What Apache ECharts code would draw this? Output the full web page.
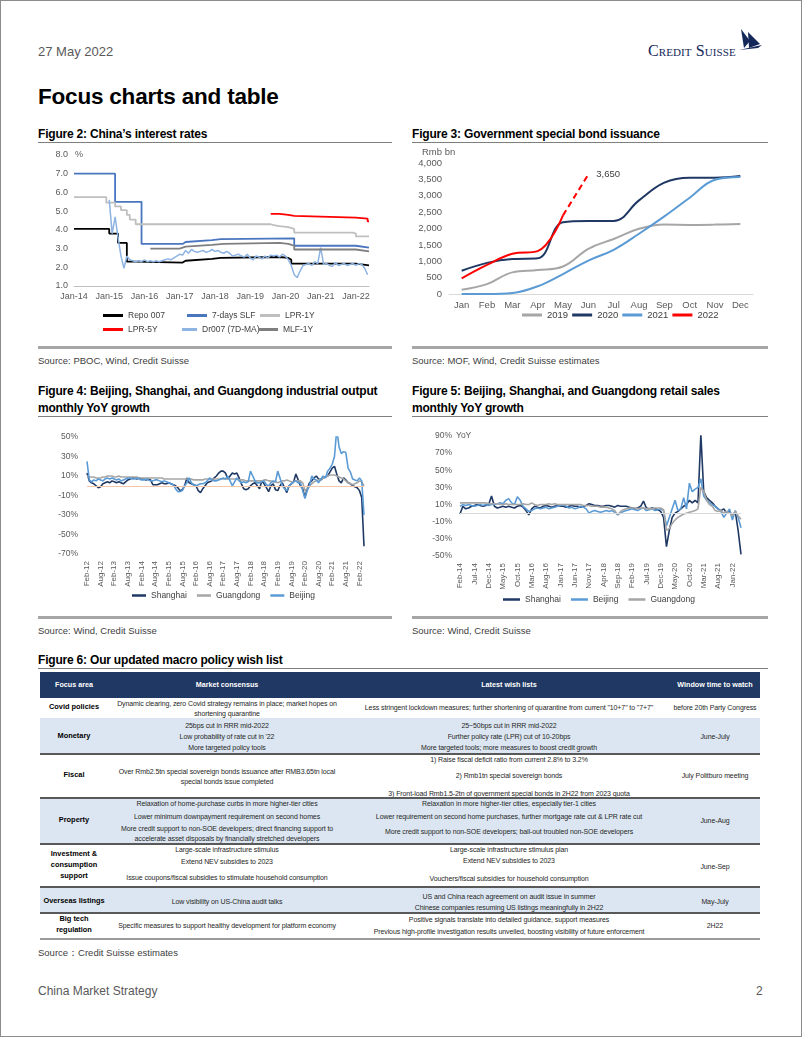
<!DOCTYPE html>
<html><head><meta charset="utf-8">
<script src="https://cdn.jsdelivr.net/npm/echarts@6/dist/echarts.min.js"></script>
<style>
body{margin:0;background:#fff;font-family:"Liberation Sans",Arial,sans-serif;}
#page{position:relative;width:802px;height:1037px;overflow:hidden;background:#fff;}
.t{position:absolute;white-space:nowrap;line-height:1;transform:translateY(-50%);}
.ft{font-weight:bold;font-size:12px;color:#000;letter-spacing:-0.2px;}
.src{font-size:9.5px;color:#404040;}
.rl{position:absolute;}
.c{position:absolute;}
.tc{position:absolute;white-space:nowrap;line-height:1;transform:translate(-50%,-50%);font-size:7px;color:#262626;letter-spacing:-0.1px;}
</style></head><body>
<div id="page">
  <div class="rl" style="left:0;top:0;width:802px;height:1037px;box-sizing:border-box;border:1.5px solid #8c8c8c;"></div>
  <div class="t" style="left:38px;top:51px;font-size:13px;color:#595959;">27 May 2022</div>
  <div class="t" style="left:648px;top:51px;font-family:'Liberation Serif',serif;font-variant:small-caps;font-size:16px;color:#14285a;letter-spacing:0.1px;">Credit Suisse</div>
  <svg class="rl" style="left:737px;top:29px;" width="26" height="22" viewBox="0 0 26 22">
    <polygon points="4,0 13,12 7,19" fill="#14285a"/>
    <polygon points="11,3 23,15 12,19" fill="#14285a"/>
    <polygon points="2,21 25,16 21,19" fill="#14285a"/>
  </svg>
  <div class="t" style="left:38px;top:97px;font-size:22.5px;font-weight:bold;color:#000;letter-spacing:-0.2px;">Focus charts and table</div>

  <div class="t ft" style="left:38px;top:134px;">Figure 2: China’s interest rates</div>
  <div class="t ft" style="left:412px;top:134px;">Figure 3: Government special bond issuance</div>
  <div class="rl" style="left:38px;top:142px;width:354px;height:1px;background:#7f7f7f;"></div>
  <div class="rl" style="left:412px;top:142px;width:356px;height:1px;background:#7f7f7f;"></div>
  <div id="c2" class="c" style="left:30px;top:145px;width:370px;height:195px;"></div>
  <div id="c3" class="c" style="left:410px;top:145px;width:370px;height:195px;"></div>
  <div class="rl" style="left:38px;top:346px;width:354px;height:2.5px;background:#a6a6a6;"></div>
  <div class="rl" style="left:412px;top:346px;width:356px;height:2.5px;background:#a6a6a6;"></div>
  <div class="t src" style="left:38px;top:361px;">Source: PBOC, Wind, Credit Suisse</div>
  <div class="t src" style="left:412px;top:361px;">Source: MOF, Wind, Credit Suisse estimates</div>

  <div class="t ft" style="left:38px;top:391px;">Figure 4: Beijing, Shanghai, and Guangdong industrial output</div>
  <div class="t ft" style="left:38px;top:408px;">monthly YoY growth</div>
  <div class="t ft" style="left:412px;top:391px;">Figure 5: Beijing, Shanghai, and Guangdong retail sales</div>
  <div class="t ft" style="left:412px;top:408px;">monthly YoY growth</div>
  <div class="rl" style="left:38px;top:416px;width:354px;height:1px;background:#7f7f7f;"></div>
  <div class="rl" style="left:412px;top:416px;width:356px;height:1px;background:#7f7f7f;"></div>
  <div id="c4" class="c" style="left:30px;top:420px;width:370px;height:195px;"></div>
  <div id="c5" class="c" style="left:410px;top:420px;width:370px;height:195px;"></div>
  <div class="rl" style="left:38px;top:616px;width:354px;height:2.5px;background:#a6a6a6;"></div>
  <div class="rl" style="left:412px;top:616px;width:356px;height:2.5px;background:#a6a6a6;"></div>
  <div class="t src" style="left:38px;top:631px;">Source: Wind, Credit Suisse</div>
  <div class="t src" style="left:412px;top:631px;">Source: Wind, Credit Suisse</div>

  <div class="t ft" style="left:38px;top:660px;">Figure 6: Our updated macro policy wish list</div>
  <div class="rl" style="left:38px;top:668px;width:730px;height:1px;background:#7f7f7f;"></div>
  <div id="tbl"></div>
  <div class="t src" style="left:38px;top:953px;">Source：Credit Suisse estimates</div>

  <div class="t" style="left:38px;top:991px;font-size:12px;color:#595959;">China Market Strategy</div>
  <div class="t" style="left:756px;top:991px;font-size:12px;color:#595959;">2</div>
</div>
<script>
// ---------------- Figure 2 data (step changes: month 'YYYY-MM' -> %) ----------------
const repoDates  = ['2014-01','2015-01','2015-04','2015-07','2015-10','2017-02','2017-03','2017-12','2018-03','2019-11','2020-02','2020-03','2022-01'];
const repoValues = [4.05, 3.8, 3.3, 2.3, 2.25, 2.35, 2.45, 2.5, 2.55, 2.5, 2.4, 2.2, 2.1];
const slfDates   = ['2014-01','2015-03','2015-12','2017-02','2017-03','2017-12','2018-03','2020-04','2022-01'];
const slfValues  = [7.0, 5.5, 3.25, 3.35, 3.45, 3.5, 3.55, 3.15, 3.05];
const lpr1Dates  = ['2014-01','2014-12','2015-03','2015-05','2015-07','2015-08','2015-10','2019-08','2019-09','2019-11','2020-02','2020-04','2021-12','2022-01'];
const lpr1Values = [5.75, 5.45, 5.25, 5.05, 4.8, 4.55, 4.3, 4.25, 4.2, 4.15, 4.05, 3.85, 3.8, 3.65];
const lpr5Dates  = ['2019-08','2019-11','2020-02','2020-04','2022-01','2022-05'];
const lpr5Values = [4.85, 4.8, 4.75, 4.65, 4.6, 4.45];
const mlfDates   = ['2016-03','2017-01','2017-03','2017-12','2018-04','2019-11','2020-02','2020-04','2022-01'];
const mlfValues  = [3.0, 3.1, 3.2, 3.25, 3.3, 3.25, 3.15, 2.95, 2.85];
const dr007Start = '2015-01';
const dr007Values = [
 5.6,3.8,4.7,3.6,2.6,1.95,2.6,2.4,2.35,2.3,2.35,2.3,
 2.4,2.3,2.35,2.3,2.35,2.3,2.35,2.4,2.45,2.4,2.5,2.6,
 2.7,2.65,2.9,2.75,2.95,2.85,2.8,2.85,2.9,2.8,2.85,2.95,
 2.85,2.9,2.8,2.75,2.85,2.75,2.6,2.65,2.7,2.6,2.55,2.7,
 2.5,2.4,2.6,2.55,2.45,2.6,2.5,2.65,2.6,2.65,2.55,2.7,
 2.6,2.4,2.1,1.6,1.45,1.8,2.1,2.15,2.2,2.1,2.3,2.2,
 3.05,2.15,2.2,2.1,2.05,2.25,2.1,2.15,2.2,2.1,2.15,2.2,
 2.1,2.2,2.15,1.95,1.6];
const fig2End = '2022-05-15';
const fig2YTicks = [1,2,3,4,5,6,7,8];

// ---------------- Figure 3 data (Rmb bn, cumulative) ----------------
const months3 = ['Jan','Feb','Mar','Apr','May','Jun','Jul','Aug','Sep','Oct','Nov','Dec'];
const bond2019 = [130, 300, 660, 730, 840, 1380, 1680, 1990, 2120, 2110, 2120, 2140];
const bond2020 = [710, 950, 1070, 1090, 2190, 2230, 2230, 2860, 3400, 3550, 3550, 3600];
const bond2021 = [0, 0, 30, 235, 610, 1020, 1350, 1840, 2370, 2940, 3490, 3570];
const bond2022 = [480, 890, 1230, 1310, 2400];
const bond2022Target = 3650;

// ---------------- Figure 4 data (industrial output YoY %, monthly from Feb-12) ----------------
const ioStart = [2012, 2];
const ioShanghai = [
 13,5,3,2,0,-2,-1,2,3,4,3,5,
 4,3,4,3,2,4,6,7,8,8,7,8,
 7,7,6,7,6,1,1,1,2,3,2,2,
 3,2,1,0,-2,-5,-4,0,8,3,2,1,
 0,-5,-7,-3,0,3,4,5,8,10,13,15,
 15,13,7,10,13,12,13,8,2,-3,-4,-3,
 0,2,3,0,-3,5,2,-2,-6,0,2,-4,
 -5,0,3,-2,-7,0,2,4,12,6,0,-3,
 -12,-3,3,5,8,10,7,6,8,9,10,14,
 18,20,12,5,3,8,6,3,2,0,-1,-2,
 -5,-12,-62];
const ioGuangdong = [
 10,9,9,9,8,8,8,9,9,10,10,10,
 9,9,10,9,9,9,9,9,9,9,9,8,
 8,8,8,8,8,8,8,8,8,8,7,7,
 7,7,7,7,7,7,7,7,7,7,7,6,
 6,6,6,6,7,7,7,7,7,7,7,7,
 7,7,7,7,7,7,7,6,6,6,5,5,
 5,5,5,5,5,5,6,6,5,5,4,4,
 3,4,5,5,6,5,4,4,5,5,5,3,
 -5,-3,0,2,4,5,6,7,8,9,10,11,
 11,11,10,9,8,7,5,3,2,1,2,3,
 5,4,0];
const ioBeijing = [
 25,6,4,6,5,7,6,5,7,8,7,8,
 7,6,7,5,6,7,8,8,7,7,8,7,
 6,6,7,6,5,5,6,6,5,4,5,4,
 3,2,1,-3,-6,-6,-5,0,3,8,3,1,
 0,1,2,2,3,5,8,6,5,5,6,7,
 8,7,10,5,0,4,8,5,3,4,3,4,
 15,10,5,3,3,4,5,1,0,3,5,4,
 15,8,0,-3,-5,0,2,4,5,3,3,-5,
 -13,-5,0,10,7,6,3,7,10,8,15,18,
 22,30,58,40,33,35,34,18,14,7,6,5,
 8,5,-30];

// ---------------- Figure 5 data (retail sales YoY %, monthly from Feb-14) ----------------
const rsStart = [2014, 2];
const rsShanghai = [
 -1,8,5,6,8,9,10,9,8,9,10,20,
 8,6,7,8,7,8,7,6,8,9,7,3,
 -2,5,8,7,6,8,9,8,7,8,9,8,
 8,7,8,9,8,8,7,8,9,11,10,9,
 9,8,8,9,9,8,7,9,8,8,8,7,
 6,5,6,8,14,6,5,6,5,4,2,-5,
 -39,-20,-5,0,2,5,8,10,15,12,15,12,
 92,25,18,15,12,8,5,3,5,0,2,-3,
 2,-20,-48];
const rsBeijing = [
 8,10,9,10,9,8,9,10,9,10,9,10,
 10,11,12,11,15,17,12,10,19,15,8,5,
 2,3,5,6,5,6,7,5,6,7,8,9,
 10,8,6,7,5,6,8,7,5,0,2,3,
 2,1,2,3,2,3,1,-2,0,2,3,4,
 5,4,3,5,6,3,4,5,3,4,5,3,
 -15,-5,5,15,3,5,18,5,35,25,28,30,
 40,20,15,12,10,8,5,2,-5,0,5,-8,
 3,-5,-17];
const rsGuangdong = [
 12,12,12,12,12,12,12,12,12,12,11,11,
 11,11,10,10,11,10,10,10,10,10,11,10,
 10,12,10,9,10,10,10,11,10,11,10,10,
 10,10,10,10,10,10,10,9,9,9,8,8,
 8,7,7,7,6,5,3,-2,2,4,5,6,
 6,6,5,6,6,5,5,5,6,6,6,4,
 -20,-18,-12,-8,-5,-3,-1,0,1,2,3,5,
 30,25,15,10,8,3,2,3,0,2,0,-3,
 2,-3,-7];

// ---------------- Figure 6 table text ----------------
const tableHeader = ['Focus area','Market consensus','Latest wish lists','Window time to watch'];
const tableRows = [
 {top:698,h:20,bg:'#ffffff',label:[['Covid policies',707]],
  c2:[['Dynamic clearing, zero Covid strategy remains in place; market hopes on',703],['shortening quarantine',713]],
  c3:[['Less stringent lockdown measures; further shortening of quarantine from current "10+7" to "7+7"',707]],
  c4:[['before 20th Party Congress',707]]},
 {top:718,h:36,bg:'#dce6f2',label:[['Monetary',736]],
  c2:[['25bps cut in RRR mid-2022',725],['Low probability of rate cut in \'22',736],['More targeted policy tools',747]],
  c3:[['25~50bps cut in RRR mid-2022',725],['Further policy rate (LPR) cut of 10-20bps',736],['More targeted tools; more measures to boost credit growth',747]],
  c4:[['June-July',736]]},
 {top:754,h:44,bg:'#ffffff',label:[['Fiscal',775]],
  c2:[['Over Rmb2.5tn special sovereign bonds issuance after RMB3.65tn local',771],['special bonds issue completed',781]],
  c3:[['1) Raise fiscal deficit ratio from current 2.8% to 3.2%',759],['2) Rmb1tn special sovereign bonds',775],['3) Front-load Rmb1.5-2tn of government special bonds in 2H22 from 2023 quota',793]],
  c4:[['July Politburo meeting',775]]},
 {top:798,h:46,bg:'#dce6f2',label:[['Property',820]],
  c2:[['Relaxation of home-purchase curbs in more higher-tier cities',803],['Lower minimum downpayment requirement on second homes',816],['More credit support to non-SOE developers; direct financing support to',828],['accelerate asset disposals by financially stretched developers',838]],
  c3:[['Relaxation in more higher-tier cities, especially tier-1 cities',803],['Lower requirement on second home purchases, further mortgage rate cut & LPR rate cut',816],['More credit support to non-SOE developers; bail-out troubled non-SOE developers',831]],
  c4:[['June-Aug',820]]},
 {top:844,h:43,bg:'#ffffff',label:[['Investment &',854],['consumption',865],['support',876]],
  c2:[['Large-scale infrastructure stimulus',849],['Extend NEV subsidies to 2023',861],['Issue coupons/fiscal subsidies to stimulate household consumption',877]],
  c3:[['Large-scale infrastructure stimulus plan',849],['Extend NEV subsidies to 2023',860],['Vouchers/fiscal subsidies for household consumption',878]],
  c4:[['June-Sep',866]]},
 {top:887,h:26,bg:'#dce6f2',label:[['Overseas listings',901]],
  c2:[['Low visibility on US-China audit talks',901]],
  c3:[['US and China reach agreement on audit issue in summer',896],['Chinese companies resuming US listings meaningfully in 2H22',907]],
  c4:[['May-July',901]]},
 {top:913,h:25,bg:'#ffffff',label:[['Big tech',919],['regulation',930]],
  c2:[['Specific measures to support healthy development for platform economy',925]],
  c3:[['Positive signals translate into detailed guidance, support measures',919],['Previous high-profile investigation results unveiled, boosting visibility of future enforcement',931]],
  c4:[['2H22',925]]}
];

// ---------------- helpers ----------------
const FONT = '"Liberation Sans", Arial, sans-serif';
function mIdx(s){ const p = s.split('-').map(Number); return (p[0]-2014)*12 + (p[1]-1) + (p[2] ? (p[2]-1)/30 : 0); }
const X_END = mIdx(fig2End);
function stepData(dates, vals){ const d = dates.map((s,i)=>[mIdx(s), vals[i]]); d.push([X_END, vals[vals.length-1]]); return d; }
function monthLabels(start, n){
  const mn = ['Jan','Feb','Mar','Apr','May','Jun','Jul','Aug','Sep','Oct','Nov','Dec'];
  const out = []; let y = start[0], m = start[1]-1;
  for (let i=0;i<n;i++){ out.push(mn[m] + '-' + String(y%100).padStart(2,'0')); m++; if(m>11){m=0;y++;} }
  return out;
}
function fmtThousands(v){ return String(v).replace(/\B(?=(\d{3})+(?!\d))/g, ','); }
const lblColor = '#595959';

// ---------------- Figure 2 ----------------
(function(){
  const ch = echarts.init(document.getElementById('c2'));
  const dr0 = mIdx(dr007Start);
  const lineSeries = (name, color, data, step, w) => ({name, type:'line', data, step: step ? 'end' : false,
     showSymbol:false, symbol:'none', lineStyle:{color, width:w||1.8}, itemStyle:{color}, silent:true, animation:false});
  const leg = (name, left, top, iw) => ({data:[name], left, top, itemWidth:iw||20, itemHeight:3, icon:'rect',
     textStyle:{fontSize:8.5, color:'#404040', fontFamily:FONT}, padding:0, itemGap:0, selectedMode:false});
  ch.setOption({
    animation:false,
    textStyle:{fontFamily:FONT},
    grid:{left:44, top:10, width:295, height:131, containLabel:false, outerBoundsMode:'none'},
    xAxis:{type:'value', min:0, max:X_END, interval:12,
      axisLine:{show:true, lineStyle:{color:'#bfbfbf', width:1}}, axisTick:{show:false}, splitLine:{show:false},
      axisLabel:{fontSize:9, color:lblColor, margin:6, showMaxLabel:false,
        formatter:v => (Math.abs(v%12) < 1e-6) ? 'Jan-' + String(14 + v/12) : ''}},
    yAxis:{type:'value', min:fig2YTicks[0], max:fig2YTicks[fig2YTicks.length-1], interval:1,
      axisLine:{show:false}, axisTick:{show:false}, splitLine:{show:false},
      axisLabel:{fontSize:9, color:lblColor, margin:6, formatter:v => v.toFixed(1)}},
    graphic:[{type:'text', left:45, top:5, style:{text:'%', fontSize:9, fill:lblColor, fontFamily:FONT}}],
    legend:[leg('Repo 007',73,166), leg('7-days SLF',157,166), leg('LPR-1Y',230,166),
            leg('LPR-5Y',73,180), leg('Dr007 (7D-MA)',152,180,15), leg('MLF-1Y',228,180)],
    series:[
      lineSeries('Repo 007', '#000000', stepData(repoDates, repoValues), true),
      lineSeries('7-days SLF', '#4a76c0', stepData(slfDates, slfValues), true),
      lineSeries('LPR-1Y', '#bfbfbf', stepData(lpr1Dates, lpr1Values), true),
      lineSeries('LPR-5Y', '#ff0000', stepData(lpr5Dates, lpr5Values), true),
      lineSeries('Dr007 (7D-MA)', '#8db4e2', dr007Values.map((v,i)=>[dr0+i, v]), false, 1.5),
      lineSeries('MLF-1Y', '#7f7f7f', stepData(mlfDates, mlfValues), true)
    ]
  });
})();

// ---------------- Figure 3 ----------------
(function(){
  const ch = echarts.init(document.getElementById('c3'));
  const s = (name, color, data, extra) => Object.assign({name, type:'line', data, smooth:0.4, showSymbol:false, symbol:'none',
      lineStyle:{color, width:2}, itemStyle:{color}, silent:true}, extra||{});
  const dashData = months3.map((m,i) => i === bond2022.length-1 ? bond2022[i] : (i === bond2022.length ? bond2022Target : '-'));
  ch.setOption({
    animation:false,
    textStyle:{fontFamily:FONT},
    grid:{left:39, top:18, width:304, height:131, containLabel:false, outerBoundsMode:'none'},
    xAxis:{type:'category', data:months3, boundaryGap:true,
      axisLine:{show:true, lineStyle:{color:'#d9d9d9'}}, axisTick:{show:false},
      axisLabel:{fontSize:9.5, color:lblColor, margin:6, interval:0}},
    yAxis:{type:'value', min:0, max:4000, interval:500,
      axisLine:{show:false}, axisTick:{show:false}, splitLine:{show:false},
      axisLabel:{fontSize:9.5, color:lblColor, margin:7, formatter:v => fmtThousands(v)}},
    graphic:[{type:'text', left:12, top:2, style:{text:'Rmb bn', fontSize:9.5, fill:lblColor, fontFamily:FONT}}],
    legend:{data:['2019','2020','2021','2022'], left:112, top:165, itemWidth:20, itemHeight:3, icon:'rect', itemGap:4, padding:0,
      textStyle:{fontSize:9.5, color:'#404040', fontFamily:FONT}, selectedMode:false},
    series:[
      s('2019', '#a6a6a6', bond2019),
      s('2020', '#1f3864', bond2020),
      s('2021', '#5b9bd5', bond2021),
      s('2022', '#ff0000', bond2022),
      s('2022', '#ff0000', dashData, {smooth:false, connectNulls:false, lineStyle:{color:'#ff0000', width:2, type:[6,4]},
        endLabel:{show:true, distance:8, fontSize:9.5, color:'#404040', fontFamily:FONT,
          formatter:p => fmtThousands(p.value)}})
    ]
  });
})();

// ---------------- Figures 4 & 5 ----------------
function yoyChart(id, cats, series, cfg){
  const ch = echarts.init(document.getElementById(id));
  ch.setOption({
    animation:false,
    textStyle:{fontFamily:FONT},
    grid:Object.assign({containLabel:false, outerBoundsMode:'none'}, cfg.grid),
    xAxis:{type:'category', data:cats, boundaryGap:false, position:'bottom',
      axisLine:{show:false, onZero:false}, axisTick:{show:false},
      axisLabel:{rotate:90, interval:cfg.labelInterval, fontSize:8, color:lblColor, margin:7}},
    yAxis:{type:'value', min:cfg.min, max:cfg.max, interval:10,
      axisLine:{show:false}, axisTick:{show:false}, splitLine:{show:false},
      axisLabel:{fontSize:8.5, color:lblColor, margin:cfg.yMargin,
        formatter:v => ((v - cfg.min) % 20 === 0) ? v + '%' : ''}},
    graphic: cfg.graphic || [],
    legend:Object.assign({itemHeight:2.5, icon:'rect', padding:0, selectedMode:false,
      textStyle:{fontSize:8.5, color:'#404040', fontFamily:FONT}}, cfg.legend),
    series: series.map((s,i) => ({name:s.name, type:'line', data:s.data, showSymbol:false, symbol:'none', silent:true,
      lineStyle:{color:s.color, width:1.6}, itemStyle:{color:s.color}, z: s.z || 2,
      markLine: i === 0 ? {silent:true, symbol:'none', label:{show:false}, data:[{yAxis:0}],
        lineStyle:{color:cfg.zeroColor, width:1, type:'solid'}} : undefined}))
  });
}
yoyChart('c4', monthLabels(ioStart, ioShanghai.length), [
  {name:'Shanghai', color:'#1f3864', data:ioShanghai},
  {name:'Guangdong', color:'#a6a6a6', data:ioGuangdong},
  {name:'Beijing', color:'#5b9bd5', data:ioBeijing}
], {grid:{left:57, top:17, width:277, height:117}, min:-70, max:50, labelInterval:5, yMargin:9,
    zeroColor:'#f4c7a8', legend:{left:102, top:171, itemWidth:14, itemGap:10}});
yoyChart('c5', monthLabels(rsStart, rsShanghai.length), [
  {name:'Shanghai', color:'#1f3864', data:rsShanghai},
  {name:'Beijing', color:'#5b9bd5', data:rsBeijing},
  {name:'Guangdong', color:'#a6a6a6', data:rsGuangdong}
], {grid:{left:50, top:16, width:281, height:120}, min:-50, max:90, labelInterval:4, yMargin:8,
    zeroColor:'#d9d9d9', legend:{left:93, top:175, itemWidth:17, itemGap:10},
    graphic:[{type:'text', left:46, top:11, style:{text:'YoY', fontSize:8.5, fill:lblColor, fontFamily:FONT}}]});

// ---------------- Table ----------------
(function(){
  const root = document.getElementById('tbl');
  const colX = [74, 227, 509, 715];
  const L = 40, W = 720;
  let html = '';
  html += `<div class="rl" style="left:${L}px;top:672px;width:${W}px;height:26px;background:#1f3864;"></div>`;
  tableHeader.forEach((h,i) => { html += `<div class="tc" style="left:${colX[i]}px;top:685px;color:#fff;font-weight:bold;font-size:7.2px;letter-spacing:0;">${h}</div>`; });
  tableRows.forEach((r, ri) => {
    html += `<div class="rl" style="left:${L}px;top:${r.top}px;width:${W}px;height:${r.h}px;background:${r.bg};"></div>`;
    r.label.forEach(([t,y]) => { html += `<div class="tc" style="left:${colX[0]}px;top:${y}px;font-weight:bold;font-size:7.4px;color:#000;letter-spacing:0;">${t}</div>`; });
    [r.c2, r.c3, r.c4].forEach((lines, ci) => lines.forEach(([t,y]) => {
      const esc = t.replace(/&/g,'&amp;').replace(/</g,'&lt;');
      html += `<div class="tc" style="left:${colX[ci+1]}px;top:${y}px;">${esc}</div>`;
    }));
  });
  tableRows.slice(1).forEach(r => {
    if (r.top !== 718) html += `<div class="rl" style="left:${L}px;top:${r.top-1}px;width:${W}px;height:2px;background:#595959;"></div>`;
  });
  const last = tableRows[tableRows.length-1];
  html += `<div class="rl" style="left:${L}px;top:${last.top+last.h}px;width:${W}px;height:2px;background:#9a9a9a;"></div>`;
  root.innerHTML = html;
})();
</script>
</body></html>
